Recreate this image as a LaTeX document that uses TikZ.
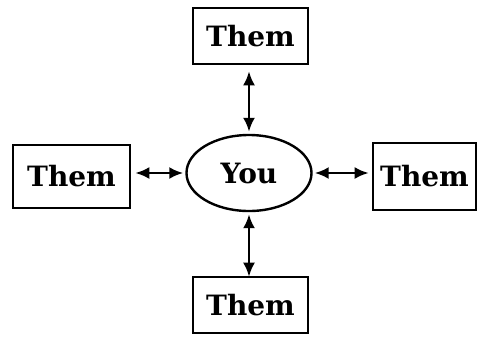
\documentclass[tikz,border=0pt]{standalone}
\usepackage{fontspec}
\setmainfont{DejaVu Serif}
\usetikzlibrary{shapes.geometric,arrows.meta}
\begin{document}
\begin{tikzpicture}[x=1pt,y=-1pt,
  thembox/.style={draw,line width=2.6pt,minimum width=115pt,minimum height=56pt,inner sep=0pt,font=\fontsize{28}{30}\selectfont\bfseries},
  youell/.style={draw,ellipse,line width=2.4pt,minimum width=125pt,minimum height=76pt,inner sep=0pt,font=\fontsize{28}{30}\selectfont\bfseries},
  link/.style={line width=2.6pt,{Latex[length=14pt,width=12pt]}-{Latex[length=14pt,width=12pt]},shorten <=2pt,shorten >=2pt}]
\useasboundingbox (0,0) rectangle (481,341);
\node[youell] (you) at (249,173) {You};
\node[thembox] (top) at (250.5,36) {Them};
\node[thembox] (bot) at (250.5,305) {Them};
\node[thembox,minimum width=117pt,minimum height=63pt] (left) at (71.5,176.5) {Them};
\node[thembox,minimum width=103pt,minimum height=67pt] (right) at (424.5,176.5) {Them};
\draw[link] (top.south -| you.north) ++(0,4) coordinate (t1) (t1) -- (you.north);
\draw[link] (you.south) -- ([yshift=-3pt]bot.north -| you.south);
\draw[link] ([xshift=2pt]left.east |- you.west) -- (you.west);
\draw[link] (you.east) -- ([xshift=-1pt]right.west |- you.east);
\end{tikzpicture}
\end{document}
